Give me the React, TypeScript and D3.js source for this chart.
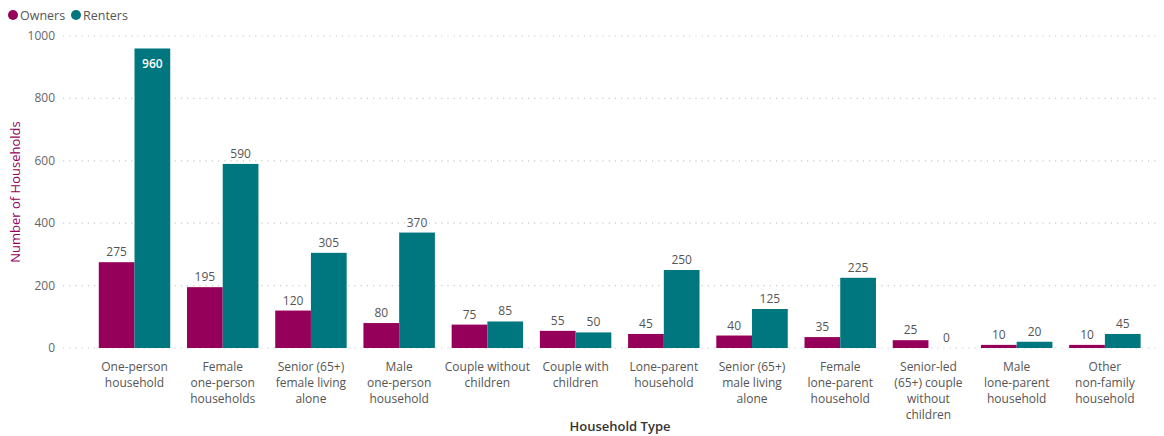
import React from "react";
import * as d3 from "d3";

const categories: string[][] = [
  ["One-person", "household"],
  ["Female", "one-person", "households"],
  ["Senior (65+)", "female living", "alone"],
  ["Male", "one-person", "household"],
  ["Couple without", "children"],
  ["Couple with", "children"],
  ["Lone-parent", "household"],
  ["Senior (65+)", "male living", "alone"],
  ["Female", "lone-parent", "household"],
  ["Senior-led", "(65+) couple", "without", "children"],
  ["Male", "lone-parent", "household"],
  ["Other", "non-family", "household"],
];
const owners = [275, 195, 120, 80, 75, 55, 45, 40, 35, 25, 10, 10];
const renters = [960, 590, 305, 370, 85, 50, 250, 125, 225, 0, 20, 45];
const yTicks = [0, 200, 400, 600, 800, 1000];
const seriesNames = ["Owners", "Renters"];
const colors = ["#95005A", "#00777E"];

const W = 1164;
const H = 436;
const FONT = "'Open Sans', 'Segoe UI', sans-serif";

export default function App() {
  const ids = categories.map((_, i) => String(i));
  const x = d3.scaleBand<string>().domain(ids).range([90.4, 1149]).paddingInner(0.19).paddingOuter(0.095);
  const x1 = d3.scaleBand<string>().domain(seriesNames).range([0, x.bandwidth()]);
  const y = d3.scaleLinear().domain([0, 1000]).range([348, 36]);
  const series = [owners, renters];

  return (
    <svg width={W} height={H} style={{ position: "absolute", left: 0, top: 0, fontFamily: FONT }}>
      {seriesNames.map((s, i) => {
        const lx = i === 0 ? 13 : 76;
        return (
          <g key={s}>
            <circle cx={lx} cy={15} r={5} fill={colors[i]} />
            <text x={lx + 7} y={19.5} fontSize={12.5} fill="#555">{s}</text>
          </g>
        );
      })}
      {yTicks.map((t) => (
        <g key={t}>
          <line x1={63} x2={1160} y1={y(t)} y2={y(t)} stroke="#c8c8c8" strokeDasharray="1.2,5" strokeWidth={1.2} />
          <text x={55} y={y(t) + 4} textAnchor="end" fontSize={12} fill="#666">{t}</text>
        </g>
      ))}
      <text transform={`translate(20,192) rotate(-90)`} textAnchor="middle" fontSize={13} fill="#95005A">Number of Households</text>
      {categories.map((c, i) => {
        const gx = x(String(i))!;
        return (
          <g key={i}>
            {series.map((vals, si) => {
              const v = vals[i];
              const bx = gx + x1(seriesNames[si])!;
              const bw = x1.bandwidth();
              const inside = v > 900;
              return (
                <g key={si}>
                  <rect x={bx} y={y(v)} width={bw} height={y(0) - y(v)} fill={colors[si]} />
                  <text
                    x={bx + bw / 2}
                    y={inside ? y(v) + 20 : y(v) - 6}
                    textAnchor="middle"
                    fontSize={12}
                    fontWeight={inside ? 600 : 400}
                    fill={inside ? "#ffffff" : "#555"}
                  >
                    {v}
                  </text>
                </g>
              );
            })}
            <text textAnchor="middle" fontSize={12} fill="#555">
              {c.map((line, li) => (
                <tspan key={li} x={gx + x.bandwidth() / 2} y={371 + li * 16}>{line}</tspan>
              ))}
            </text>
          </g>
        );
      })}
      <text x={620} y={431} textAnchor="middle" fontSize={13} fontWeight={600} fill="#333">Household Type</text>
    </svg>
  );
}
